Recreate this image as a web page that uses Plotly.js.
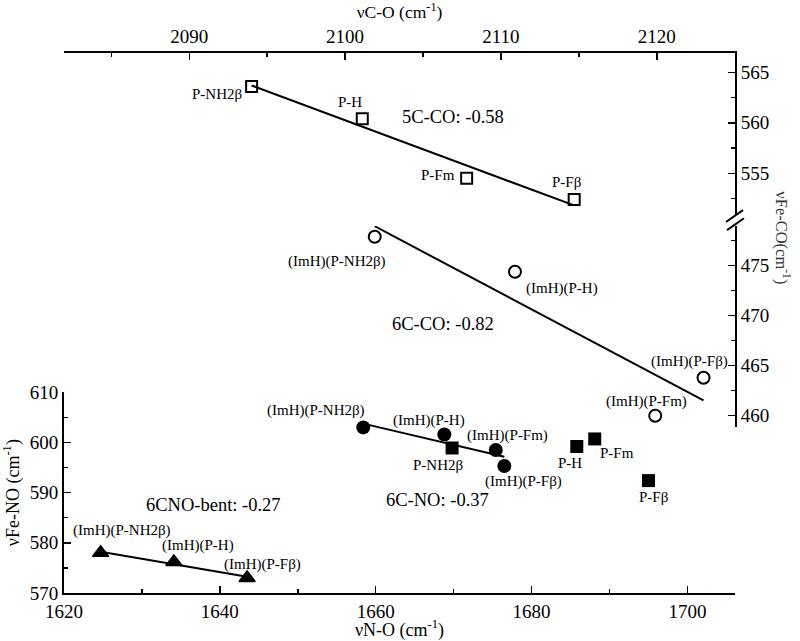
<!DOCTYPE html>
<html>
<head>
<meta charset="utf-8">
<script src="https://cdn.plot.ly/plotly-3.0.1.min.js"></script>
<style>html,body{margin:0;padding:0;background:#fff;}#chart{width:800px;height:641px;}</style>
</head>
<body>
<div id="chart"></div>
<script>
// ---- Data ----
// 5C-CO (open squares): νC-O (top axis) vs νFe-CO (right axis, upper part)
const co5Labels = ['P-NH2β', 'P-H', 'P-Fm', 'P-Fβ'];
const co5NuCO   = [2094.0, 2101.1, 2107.8, 2114.7];
const co5NuFeCO = [563.6, 560.4, 554.5, 552.4];

// 6C-CO (open circles): νC-O (top axis) vs νFe-CO (right axis, lower part)
const co6Labels = ['(ImH)(P-NH2β)', '(ImH)(P-H)', '(ImH)(P-Fm)', '(ImH)(P-Fβ)'];
const co6NuCO   = [2101.9, 2110.9, 2119.9, 2123.0];
const co6NuFeCO = [477.9, 474.4, 460.0, 463.8];

// 6C-NO (filled circles): νN-O (bottom axis) vs νFe-NO (left axis)
const no6Labels  = ['(ImH)(P-NH2β)', '(ImH)(P-H)', '(ImH)(P-Fm)', '(ImH)(P-Fβ)'];
const no6NuNO    = [1658.4, 1668.8, 1675.4, 1676.5];
const no6NuFeNO  = [603.0, 601.6, 598.5, 595.3];

// 5C-NO (filled squares)
const no5Labels  = ['P-NH2β', 'P-H', 'P-Fm', 'P-Fβ'];
const no5NuNO    = [1669.8, 1685.8, 1688.1, 1695.0];
const no5NuFeNO  = [598.9, 599.2, 600.7, 592.4];

// 6CNO-bent (filled triangles)
const bentLabels = ['(ImH)(P-NH2β)', '(ImH)(P-H)', '(ImH)(P-Fβ)'];
const bentNuNO   = [1624.7, 1634.1, 1643.5];
const bentNuFeNO = [578.0, 576.2, 573.0];

// Slope annotations
const slopeTexts = ['5C-CO: -0.58', '6C-CO: -0.82', '6C-NO: -0.37', '6CNO-bent: -0.27'];

// Tick values
const nuNOTicks      = [1620, 1640, 1660, 1680, 1700];
const nuCOTicks      = [2090, 2100, 2110, 2120];
const nuFeNOTicks    = [570, 580, 590, 600, 610];
const nuFeCOLowTicks = [460, 465, 470, 475];
const nuFeCOUpTicks  = [555, 560, 565];

// ---- Styles / label offsets (pixels) ----
const FONT = '"Liberation Serif", "Times New Roman", serif';
const co5Off  = [[-35, 8], [-12, -17], [-29, -3], [-8, -18]];
const co6Off  = [[-38, 25], [47, 17], [-9, -14], [-14, -16]];
const no6Off  = [[-47, -17], [-15, -14], [12, -14], [19, 15]];
const no5Off  = [[-14, 17], [-7, 17], [22, 14], [5, 16]];
const bentOff = [[21, -22], [24, -16], [15, -13]];

function fit(xs, ys) {
  const n = xs.length;
  const mx = xs.reduce((a, b) => a + b, 0) / n;
  const my = ys.reduce((a, b) => a + b, 0) / n;
  let sxy = 0, sxx = 0;
  for (let i = 0; i < n; i++) { sxy += (xs[i] - mx) * (ys[i] - my); sxx += (xs[i] - mx) ** 2; }
  const m = sxy / sxx, b = my - m * mx;
  const x0 = Math.min(...xs), x1 = Math.max(...xs);
  return { x: [x0, x1], y: [m * x0 + b, m * x1 + b] };
}
function fitTrace(xs, ys, xa, ya) {
  const f = fit(xs, ys);
  return { type: 'scatter', mode: 'lines', x: f.x, y: f.y, xaxis: xa, yaxis: ya,
           line: { color: 'black', width: 2 }, hoverinfo: 'skip', cliponaxis: false };
}
function ptTrace(xs, ys, xa, ya, marker) {
  return { type: 'scatter', mode: 'markers', x: xs, y: ys, xaxis: xa, yaxis: ya,
           marker: marker, cliponaxis: false };
}

const traces = [
  fitTrace(co5NuCO, co5NuFeCO, 'x2', 'y3'),
  fitTrace(co6NuCO, co6NuFeCO, 'x2', 'y2'),
  fitTrace(no6NuNO, no6NuFeNO, 'x', 'y'),
  fitTrace(bentNuNO, bentNuFeNO, 'x', 'y'),
  ptTrace(co5NuCO, co5NuFeCO, 'x2', 'y3', { symbol: 'square-open', size: 11, color: 'black', line: { width: 2, color: 'black' } }),
  ptTrace(co6NuCO, co6NuFeCO, 'x2', 'y2', { symbol: 'circle-open', size: 12, color: 'black', line: { width: 2, color: 'black' } }),
  ptTrace(no6NuNO, no6NuFeNO, 'x', 'y', { symbol: 'circle', size: 14, color: 'black' }),
  ptTrace(no5NuNO, no5NuFeNO, 'x', 'y', { symbol: 'square', size: 13, color: 'black' }),
  ptTrace(bentNuNO, bentNuFeNO, 'x', 'y', { symbol: 'triangle-up', size: 14, color: 'black', line: { width: 1.5, color: 'black' } })
];

const annotations = [];
function addLabels(labels, xs, ys, offs, xref, yref) {
  labels.forEach((t, i) => annotations.push({
    text: t, x: xs[i], y: ys[i], xref: xref, yref: yref, showarrow: false,
    xanchor: 'center', yanchor: 'middle', xshift: offs[i][0], yshift: -offs[i][1],
    font: { family: FONT, size: 15, color: 'black' }
  }));
}
addLabels(co5Labels, co5NuCO, co5NuFeCO, co5Off, 'x2', 'y3');
addLabels(co6Labels, co6NuCO, co6NuFeCO, co6Off, 'x2', 'y2');
addLabels(no6Labels, no6NuNO, no6NuFeNO, no6Off, 'x', 'y');
addLabels(no5Labels, no5NuNO, no5NuFeNO, no5Off, 'x', 'y');
addLabels(bentLabels, bentNuNO, bentNuFeNO, bentOff, 'x', 'y');

const slopePos = [[0.579, 0.882], [0.565, 0.499], [0.556, 0.172], [0.2235, 0.163]];
slopeTexts.forEach((t, i) => annotations.push({
  text: t, x: slopePos[i][0], y: slopePos[i][1], xref: 'paper', yref: 'paper', showarrow: false,
  xanchor: 'center', yanchor: 'middle', font: { family: FONT, size: 18.5, color: 'black' }
}));
// right axis title (reads top-to-bottom)
annotations.push({
  text: 'νFe-CO(cm<sup>-1</sup>)', x: 1.0715, y: 0.657, xref: 'paper', yref: 'paper',
  showarrow: false, textangle: 90, xanchor: 'center', yanchor: 'middle',
  font: { family: FONT, size: 16.5, color: '#333' }
});

function axisBase(extra) {
  return Object.assign({
    showline: true, linecolor: 'black', linewidth: 2, showgrid: false, zeroline: false,
    ticks: 'inside', ticklen: 7, tickwidth: 1.5, tickcolor: 'black',
    tickfont: { family: FONT, size: 19, color: 'black' }, tickmode: 'array',
    minor: { ticks: 'inside', ticklen: 4, tickwidth: 1.5, tickcolor: 'black', showgrid: false },
    automargin: false, fixedrange: true
  }, extra);
}

const xa = axisBase({ domain: [0, 1], range: [1620, 1706.1], anchor: 'y', side: 'bottom',
  tickvals: nuNOTicks, title: { text: 'νN-O (cm<sup>-1</sup>)', font: { family: FONT, size: 18 } } });
xa.minor.dtick = 10; xa.minor.tick0 = 1620;
const xa2 = axisBase({ domain: [0, 1], range: [2081.96, 2125.02], anchor: 'y3', side: 'top', overlaying: 'x',
  tickvals: nuCOTicks, title: { text: 'νC-O (cm<sup>-1</sup>)', font: { family: FONT, size: 17.5 } } });
xa2.minor.dtick = 5; xa2.minor.tick0 = 2080;
const ya = axisBase({ domain: [0, 0.3717], range: [570, 610], anchor: 'x', side: 'left',
  tickvals: nuFeNOTicks, title: { text: 'νFe-NO (cm<sup>-1</sup>)', font: { family: FONT, size: 18 } } });
ya.minor.dtick = 5; ya.minor.tick0 = 570;
const ya2 = axisBase({ domain: [0.3074, 0.6796], range: [458.87, 478.97], anchor: 'x', side: 'right',
  tickvals: nuFeCOLowTicks });
ya2.minor.dtick = 2.5; ya2.minor.tick0 = 460;
const ya3 = axisBase({ domain: [0.7, 1], range: [550.87, 566.91], anchor: 'x', side: 'right',
  tickvals: nuFeCOUpTicks });
ya3.minor.dtick = 2.5; ya3.minor.tick0 = 550;

const layout = {
  width: 800, height: 641,
  margin: { l: 64, r: 65, t: 53, b: 48, pad: 0 },
  paper_bgcolor: 'white', plot_bgcolor: 'rgba(0,0,0,0)', showlegend: false,
  font: { family: FONT, color: 'black' },
  xaxis: xa, xaxis2: xa2, yaxis: ya, yaxis2: ya2, yaxis3: ya3,
  annotations: annotations,
  shapes: [
    { type: 'line', xref: 'paper', yref: 'paper', x0: 0.9866, y0: 0.687, x1: 1.0119, y1: 0.709, line: { color: 'black', width: 2 } },
    { type: 'line', xref: 'paper', yref: 'paper', x0: 0.9881, y0: 0.672, x1: 1.0134, y1: 0.694, line: { color: 'black', width: 2 } }
  ]
};

Plotly.newPlot('chart', traces, layout, { staticPlot: true, displayModeBar: false });
</script>
</body>
</html>
